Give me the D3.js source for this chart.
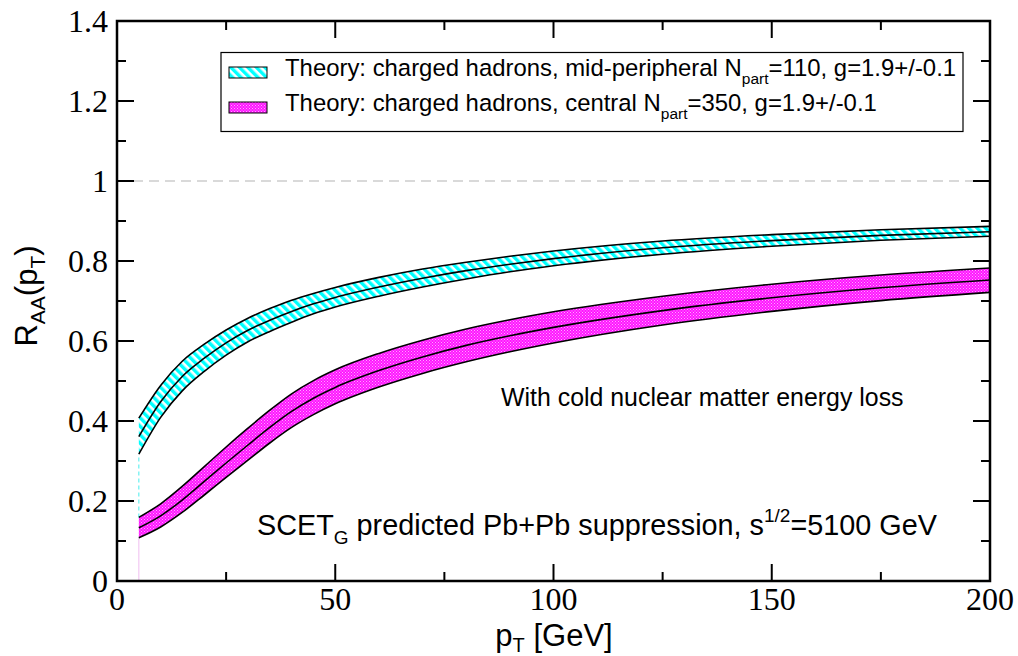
<!DOCTYPE html>
<html><head><meta charset="utf-8">
<script src="https://cdn.jsdelivr.net/npm/d3@7/dist/d3.min.js"></script>
<style>body{margin:0;background:#fff}</style>
</head><body>
<svg id="chart" width="1018" height="656"></svg>
<script>
// ---- data ----
const pT = [5, 10, 15, 20, 25, 30, 35, 40, 45, 50, 60, 70, 80, 90, 100, 125, 150, 175, 200];
const periphHigh = [0.407, 0.489, 0.550, 0.592, 0.6275, 0.657, 0.681, 0.702, 0.719, 0.734, 0.759, 0.780, 0.797, 0.812, 0.825, 0.850, 0.866, 0.878, 0.8865];
const periphMid  = [0.361, 0.448, 0.512, 0.557, 0.5955, 0.627, 0.652, 0.674, 0.693, 0.709, 0.735, 0.757, 0.776, 0.792, 0.806, 0.833, 0.851, 0.864, 0.873];
const periphLow  = [0.317, 0.409, 0.476, 0.524, 0.5645, 0.598, 0.624, 0.647, 0.668, 0.685, 0.712, 0.735, 0.755, 0.773, 0.788, 0.817, 0.837, 0.852, 0.862];
const centralHigh = [0.159, 0.193, 0.237, 0.286, 0.335, 0.382, 0.427, 0.468, 0.501, 0.528, 0.569, 0.602, 0.630, 0.653, 0.673, 0.712, 0.742, 0.765, 0.7825];
const centralMid  = [0.133, 0.163, 0.203, 0.249, 0.295, 0.340, 0.384, 0.424, 0.457, 0.484, 0.526, 0.560, 0.589, 0.613, 0.634, 0.676, 0.708, 0.733, 0.7525];
const centralLow  = [0.108, 0.135, 0.172, 0.215, 0.259, 0.302, 0.345, 0.384, 0.416, 0.443, 0.485, 0.519, 0.548, 0.573, 0.595, 0.640, 0.674, 0.701, 0.7215];
const xMajorTicks = [0, 50, 100, 150, 200];
const xMinorTicks = [25, 75, 125, 175];
const yMajorTicks = [0, 0.2, 0.4, 0.6, 0.8, 1.0, 1.2, 1.4];
const yMinorTicks = [0.1, 0.3, 0.5, 0.7, 0.9, 1.1, 1.3];
const yTickLabels = ["0", "0.2", "0.4", "0.6", "0.8", "1", "1.2", "1.4"];
const xTickLabels = ["0", "50", "100", "150", "200"];
const referenceLine = 1.0;

const svg = d3.select("#chart");
const L = 117, R = 990, T = 21, B = 581;
const x = d3.scaleLinear().domain([0, 200]).range([L, R]);
const y = d3.scaleLinear().domain([0, 1.4]).range([B, T]);

// patterns
const defs = svg.append("defs");
const hatch = defs.append("pattern").attr("id", "hatch").attr("patternUnits", "userSpaceOnUse")
  .attr("width", 6).attr("height", 6).attr("patternTransform", "rotate(-45)");
hatch.append("rect").attr("width", 6).attr("height", 6).attr("fill", "#ffffff");
hatch.append("rect").attr("width", 3.4).attr("height", 6).attr("fill", "#00ffff");
const dots = defs.append("pattern").attr("id", "dots").attr("patternUnits", "userSpaceOnUse")
  .attr("width", 3).attr("height", 3);
dots.append("rect").attr("width", 3).attr("height", 3).attr("fill", "#ff14ff");
dots.append("rect").attr("x", 0).attr("y", 0).attr("width", 1).attr("height", 1).attr("fill", "#ffa8ff");
dots.append("rect").attr("x", 1.5).attr("y", 1.5).attr("width", 1).attr("height", 1).attr("fill", "#ffa8ff");

// dashed reference line at 1
svg.append("line").attr("x1", x(0)).attr("x2", x(200)).attr("y1", y(referenceLine)).attr("y2", y(referenceLine))
  .attr("stroke", "#d9d9d9").attr("stroke-width", 2).attr("stroke-dasharray", "10,6");

// vertical start lines
svg.append("line").attr("x1", x(pT[0])).attr("x2", x(pT[0])).attr("y1", y(0)).attr("y2", y(centralLow[0]))
  .attr("stroke", "#f2c8f2").attr("stroke-width", 1.2);
svg.append("line").attr("x1", x(pT[0])).attr("x2", x(pT[0])).attr("y1", y(centralHigh[0])).attr("y2", y(periphLow[0]))
  .attr("stroke", "#66f0f0").attr("stroke-width", 1.2).attr("stroke-dasharray", "4,3");

const curve = d3.curveMonotoneX;
function band(low, high, fill) {
  const area = d3.area().x((d, i) => x(pT[i])).y0((d, i) => y(low[i])).y1((d, i) => y(high[i])).curve(curve);
  svg.append("path").attr("d", area(pT)).attr("fill", fill).attr("stroke", "none");
}
function line(vals) {
  const ln = d3.line().x((d, i) => x(pT[i])).y((d, i) => y(vals[i])).curve(curve);
  svg.append("path").attr("d", ln(pT)).attr("fill", "none").attr("stroke", "#000").attr("stroke-width", 1.6);
}
band(periphLow, periphHigh, "url(#hatch)");
band(centralLow, centralHigh, "url(#dots)");
[periphHigh, periphMid, periphLow, centralHigh, centralMid, centralLow].forEach(line);

// frame
svg.append("rect").attr("x", L).attr("y", T).attr("width", R - L).attr("height", B - T)
  .attr("fill", "none").attr("stroke", "#000").attr("stroke-width", 2.5);

// ticks (inward on all sides)
const tk = svg.append("g").attr("stroke", "#000").attr("stroke-width", 2);
function xt(vals, len) {
  vals.forEach(v => {
    tk.append("line").attr("x1", x(v)).attr("x2", x(v)).attr("y1", B).attr("y2", B - len);
    tk.append("line").attr("x1", x(v)).attr("x2", x(v)).attr("y1", T).attr("y2", T + len);
  });
}
function yt(vals, len) {
  vals.forEach(v => {
    tk.append("line").attr("y1", y(v)).attr("y2", y(v)).attr("x1", L).attr("x2", L + len);
    tk.append("line").attr("y1", y(v)).attr("y2", y(v)).attr("x1", R).attr("x2", R - len);
  });
}
xt(xMajorTicks, 17); xt(xMinorTicks, 9); yt(yMajorTicks, 17); yt(yMinorTicks, 9);

// tick labels
const serif = "'Liberation Serif','Times New Roman',serif";
const sans = "'Liberation Sans',Arial,Helvetica,sans-serif";
svg.append("g").selectAll("text").data(yMajorTicks).join("text")
  .attr("x", L - 9).attr("y", d => y(d)).attr("dy", "0.35em").attr("text-anchor", "end")
  .attr("font-family", serif).attr("font-size", 32).text((d, i) => yTickLabels[i]);
svg.append("g").selectAll("text").data(xMajorTicks).join("text")
  .attr("x", d => x(d)).attr("y", 610).attr("text-anchor", "middle")
  .attr("font-family", serif).attr("font-size", 32).text((d, i) => xTickLabels[i]);

// axis titles
const yl = svg.append("text").attr("transform", "translate(37,296) rotate(-90)")
  .attr("text-anchor", "middle").attr("font-family", sans).attr("font-size", 31);
yl.append("tspan").text("R");
yl.append("tspan").attr("font-size", 21).attr("dy", 8).text("AA");
yl.append("tspan").attr("dy", -8).text("(p");
yl.append("tspan").attr("font-size", 21).attr("dy", 8).text("T");
yl.append("tspan").attr("dy", -8).text(")");

const xl = svg.append("text").attr("x", 554).attr("y", 646).attr("text-anchor", "middle")
  .attr("font-family", sans).attr("font-size", 31);
xl.append("tspan").text("p");
xl.append("tspan").attr("font-size", 20).attr("dy", 6).text("T");
xl.append("tspan").attr("dy", -6).text(" [GeV]");

// legend
svg.append("rect").attr("x", 221).attr("y", 52.5).attr("width", 742).attr("height", 79)
  .attr("fill", "#fff").attr("stroke", "#000").attr("stroke-width", 1.2);
const legendItems = [
  {fill: "url(#hatch)", pre: "Theory: charged hadrons, mid-peripheral N", sub: "part", post: "=110, g=1.9+/-0.1", y: 76},
  {fill: "url(#dots)", pre: "Theory: charged hadrons, central N", sub: "part", post: "=350, g=1.9+/-0.1", y: 111}
];
legendItems.forEach(it => {
  svg.append("rect").attr("x", 229).attr("y", it.y - 9).attr("width", 38).attr("height", 11)
    .attr("fill", it.fill).attr("stroke", "#000").attr("stroke-width", 1);
  const t = svg.append("text").attr("x", 285).attr("y", it.y).attr("font-family", sans).attr("font-size", 23.9);
  t.append("tspan").text(it.pre);
  t.append("tspan").attr("font-size", 15.5).attr("dy", 8).text(it.sub);
  t.append("tspan").attr("dy", -8).text(it.post);
});

// annotations
svg.append("text").attr("x", 501).attr("y", 406).attr("font-family", sans).attr("font-size", 24.9)
  .text("With cold nuclear matter energy loss");
const sc = svg.append("text").attr("x", 257).attr("y", 535).attr("font-family", sans).attr("font-size", 28.8);
sc.append("tspan").text("SCET");
sc.append("tspan").attr("font-size", 19).attr("dy", 9).text("G");
sc.append("tspan").attr("dy", -9).text(" predicted Pb+Pb suppression, s");
sc.append("tspan").attr("font-size", 19).attr("dy", -13).text("1/2");
sc.append("tspan").attr("dy", 13).text("=5100 GeV");
</script>
</body></html>
